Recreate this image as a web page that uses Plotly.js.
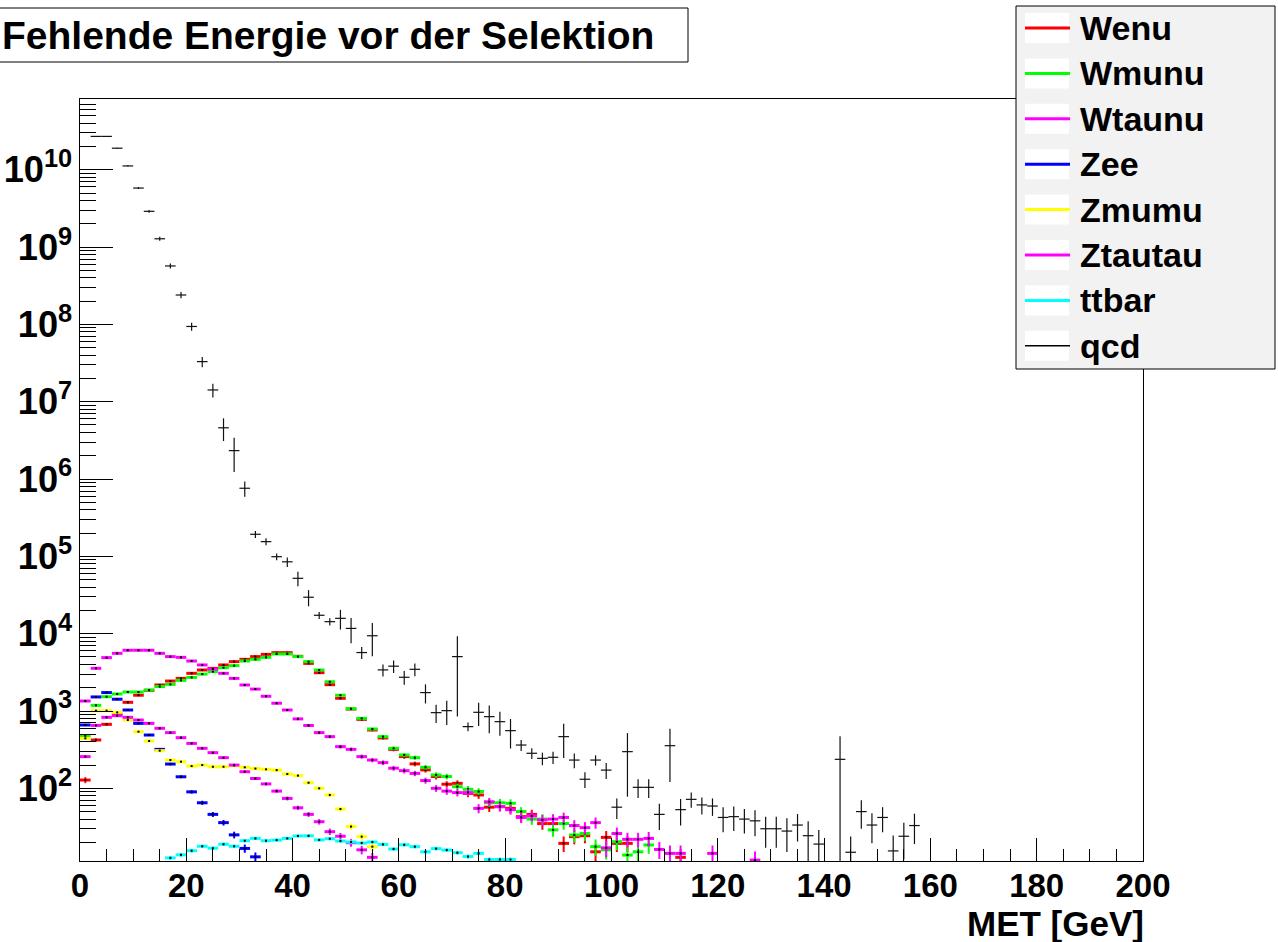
<!DOCTYPE html>
<html>
<head>
<meta charset="utf-8">
<script src="https://cdn.plot.ly/plotly-3.0.1.min.js"></script>
<style>html,body{margin:0;padding:0;background:#fff}#chart{width:1278px;height:942px}</style>
</head>
<body>
<div id="chart"></div>
<script>
// MET bin centres (bin width 2 GeV)
const binCenters = [1,3,5,7,9,11,13,15,17,19,21,23,25,27,29,31,33,35,37,39,41,43,45,47,49,51,53,55,57,59,61,63,65,67,69,71,73,75,77,79,81,83,85,87,89,91,93,95,97,99,101,103,105,107,109,111,113,115,117,119,121,123,125,127,129,131,133,135,137,139,141,143,145,147,149,151,153,155,157];

const seriesNames = ['Wenu','Wmunu','Wtaunu','Zee','Zmumu','Ztautau','ttbar','qcd'];
const seriesColors = ['#ff0000','#00ff00','#ff00ff','#0000ff','#ffff00','#ff00ff','#00ffff','#000000'];
const seriesWeights = [1,1,1,0.25,0.25,0.25,0.05];

const wenu = [128,422,672,910,1295,1600,1850,2170,2440,2640,3070,3390,3560,3940,4350,4660,5050,5400,5680,5680,5100,4130,3130,2190,1460,1060,780,568,448,319,257,207,173,142,113,116,86,82,57,58,55,43,46,35,35,19.4,23.7,24.4,15.1,23.2,19.4,19.4,null,null,null,null,12.8];
const wmunu = [474,1183,1530,1660,1760,1760,1870,2070,2210,2490,2720,3000,3230,3630,3860,4430,4660,4940,5460,5460,5050,4350,3390,2390,1600,1070,803,585,466,329,270,249,187,149,142,105,97,91,65,65,64,50,40,40,29,35,24.9,26,17.6,16,20.4,13.7,15.1,18.5];
const wtaunu = [1346,3565,4900,5570,6100,6100,6100,5570,5050,4940,4430,3940,3490,3070,2640,2170,1920,1550,1260,1030,790,650,525,466,346,319,257,232,215,182,169,156,126,100,92,88,88,55,67,58,53,42,44,39,40,42,33,31,36,17,26,21.9,21.9,22.5,16.2,14.4,14.4,null,null,14.4,null,null,null,11.8];
const zee = [659,1520,1730,1420,1030,692,489,319,206,141,90,65,46,36,25,16.7,13];
const zmumu = [443,1010,1010,960,765,540,409,307,232,221,194,200,190,190,196,187,180,176,172,153,146,118,100,82,54,32,23.7,17.6];
const ztautau = [257,651,828,870,828,765,692,597,525,452,381,329,289,249,200,164,134,114,92,74,56,46,37,27.5,24,19.8,16,12.8];
const ttbar = [null,null,null,null,null,null,null,null,12.6,13.8,15.6,17.8,16.8,18.9,17.8,21,22.5,21,21.4,22.5,24.2,24.3,21.5,22.3,20.8,20.2,19.6,20.2,18.8,16.4,18.6,17.6,15.1,16.6,15.9,14.7,13.1,14.4,12,12,12];
const qcd = [null,2.7e10,2.7e10,1.9e10,1.12e10,5.8e9,2.9e9,1.28e9,5.7e8,2.4e8,9.4e7,3.3e7,1.42e7,4.6e6,2.33e6,7.6e5,1.93e5,1.55e5,9.9e4,8.5e4,5.2e4,2.96e4,1.73e4,1.43e4,1.58e4,1.17e4,5.7e3,9.4e3,3.4e3,3.8e3,2.73e3,3.46e3,1.73e3,952,1010,5050,628,962,845,728,557,363,284,244,252,466,232,131,232,172,57,298,103,103,46,356,53,72,61,59,42,43,40,38,30,30,28,33.5,24.4,19,null,237,14.9,50,33.5,42,15.5,24,33];
const qcdErr = [null,2.7e8,2.7e8,2.8e8,2.2e8,1.7e8,1.2e8,7.7e7,4.3e7,2.2e7,1.1e7,5e6,2.9e6,1.5e6,1.1e6,1.7e5,2e4,1.6e4,1e4,1.2e4,1.1e4,7e3,1.8e3,1.5e3,4.5e3,4.2e3,1e3,4.3e3,600,700,550,650,480,250,350,4200,80,320,330,250,230,60,45,45,45,220,50,30,35,40,17,220,28,28,17,235,20,16,15,15,15,15,14,14,13,13,13,13,13,10,null,235,9,20,14,15,9,12,14];

const xTickVals = [0,20,40,60,80,100,120,140,160,180,200];

const FONT = 'Liberation Sans, Arial, Helvetica, sans-serif';
const mcSeries = [wenu, wmunu, wtaunu, zee, zmumu, ztautau, ttbar];

const traces = [];
mcSeries.forEach((vals, i) => {
  const err = vals.map(v => (v == null ? null : Math.sqrt(seriesWeights[i] * v)));
  traces.push({
    type: 'scatter', mode: 'markers', name: seriesNames[i], showlegend: false,
    x: binCenters.slice(0, vals.length), y: vals,
    marker: {size: 2, color: '#000', symbol: 'square'},
    error_x: {type: 'constant', value: 1, width: 0, thickness: 3, color: seriesColors[i]},
    error_y: {type: 'data', array: err, symmetric: true, width: 0, thickness: 2, color: seriesColors[i]},
    hoverinfo: 'skip'
  });
});
traces.push({
  type: 'scatter', mode: 'markers', name: seriesNames[7], showlegend: false,
  x: binCenters.slice(0, qcd.length), y: qcd,
  marker: {size: 1, color: '#000', opacity: 0},
  error_x: {type: 'constant', value: 1, width: 0, thickness: 1.2, color: '#111'},
  error_y: {type: 'data', array: qcdErr, symmetric: true, width: 0, thickness: 1.2, color: '#111'},
  hoverinfo: 'skip'
});

// pixel -> paper helpers (plot area x:80..1143, y:99..861)
const L = 80, R = 1143, T = 99, B = 861;
const px = v => (v - L) / (R - L);
const py = v => (B - v) / (B - T);

const shapes = [
  {type: 'rect', xref: 'paper', yref: 'paper', x0: px(-10), x1: px(688), y0: py(62), y1: py(8),
   line: {color: '#000', width: 1}, fillcolor: '#fff', layer: 'above'},
  {type: 'rect', xref: 'paper', yref: 'paper', x0: px(1016), x1: px(1275), y0: py(369), y1: py(6),
   line: {color: '#000', width: 1}, fillcolor: '#f2f2f2', layer: 'above'}
];
const annotations = [
  {xref: 'paper', yref: 'paper', x: px(0), y: py(35), xanchor: 'left', yanchor: 'middle', showarrow: false,
   text: 'Fehlende Energie vor der Selektion', font: {family: FONT, size: 39, color: '#000', weight: 'bold'}},
  {xref: 'paper', yref: 'paper', x: px(1146), y: py(923), xanchor: 'right', yanchor: 'middle', showarrow: false,
   text: 'MET [GeV]', font: {family: FONT, size: 35, color: '#000', weight: 'bold'}}
];
seriesNames.forEach((n, k) => {
  const cy = 28 + 45.4 * k;
  shapes.push({type: 'rect', xref: 'paper', yref: 'paper', x0: px(1025), x1: px(1069), y0: py(cy + 15), y1: py(cy - 15),
    line: {width: 0}, fillcolor: '#fff', layer: 'above'});
  shapes.push({type: 'line', xref: 'paper', yref: 'paper', x0: px(1025), x1: px(1070), y0: py(cy), y1: py(cy),
    line: {color: seriesColors[k], width: k === 7 ? 1.5 : 3}, layer: 'above'});
  annotations.push({xref: 'paper', yref: 'paper', x: px(1078), y: py(cy), xanchor: 'left', yanchor: 'middle', showarrow: false,
    text: n, font: {family: FONT, size: 34, color: '#000', weight: 'bold'}});
});

const layout = {
  width: 1278, height: 942,
  margin: {l: L, r: 1278 - R, t: T, b: 942 - B, pad: 0},
  paper_bgcolor: '#fff', plot_bgcolor: '#fff', showlegend: false,
  font: {family: FONT, color: '#000', weight: 'bold'},
  xaxis: {
    range: [0, 200], tickmode: 'array', tickvals: xTickVals, ticktext: xTickVals.map(String),
    ticks: 'inside', ticklen: 23, tickwidth: 1, tickcolor: '#000',
    minor: {ticks: 'inside', ticklen: 12, dtick: 5, tick0: 0, tickcolor: '#000', tickwidth: 1, showgrid: false},
    showline: true, linecolor: '#000', linewidth: 1, mirror: true, showgrid: false, zeroline: false,
    tickfont: {family: FONT, size: 33, color: '#000', weight: 'bold'}, ticklabelstandoff: -5
  },
  yaxis: {
    type: 'log', range: [1.06, 10.915], tickmode: 'linear', tick0: 0, dtick: 1, exponentformat: 'power',
    ticks: 'inside', ticklen: 33, tickwidth: 1, tickcolor: '#000',
    minor: {ticks: 'inside', ticklen: 16, dtick: 'D1', tickcolor: '#000', tickwidth: 1, showgrid: false},
    showline: true, linecolor: '#000', linewidth: 1, mirror: true, showgrid: false, zeroline: false,
    tickfont: {family: FONT, size: 29, color: '#000', weight: 'bold'}, ticklabelstandoff: 1
  },
  shapes: shapes,
  annotations: annotations
};

Plotly.newPlot('chart', traces, layout, {staticPlot: true, displayModeBar: false});
</script>
</body>
</html>
